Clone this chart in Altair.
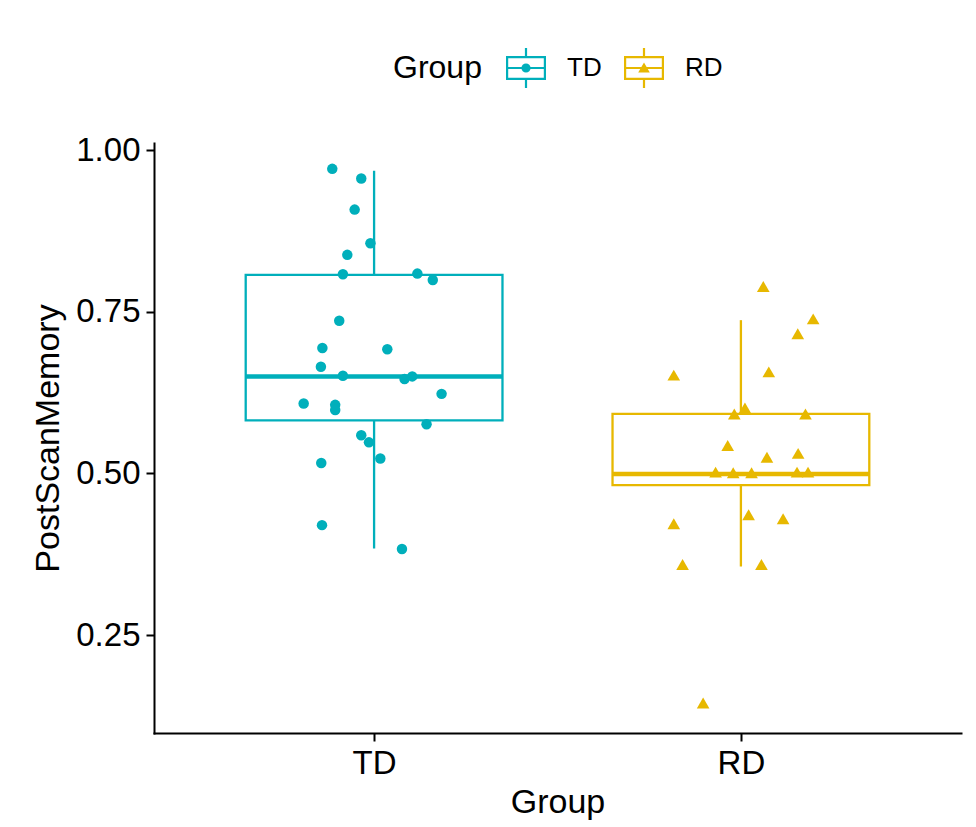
import json
import math
import altair as alt
import pandas as pd

# ---------------- data ----------------
groups = ["TD", "RD"]
palette = ["#00AFBB", "#E7B800"]

td_values = [0.971, 0.956, 0.908, 0.856, 0.838, 0.808, 0.809, 0.799, 0.736, 0.694,
             0.692, 0.665, 0.651, 0.646, 0.650, 0.623, 0.608, 0.606, 0.598, 0.576,
             0.559, 0.548, 0.523, 0.516, 0.420, 0.383]
td_jitter = [-0.114, -0.035, -0.053, -0.010, -0.073, -0.085, 0.118, 0.160, -0.095, -0.141,
             0.036, -0.145, -0.085, 0.083, 0.104, 0.184, -0.192, -0.106, -0.106, 0.143,
             -0.035, -0.014, 0.017, -0.144, -0.142, 0.076]

rd_values = [0.789, 0.739, 0.716, 0.652, 0.657, 0.592, 0.601, 0.592, 0.543, 0.525,
             0.531, 0.502, 0.501, 0.501, 0.502, 0.502, 0.436, 0.430, 0.422, 0.359,
             0.359, 0.145]
rd_jitter = [0.061, 0.197, 0.155, -0.183, 0.076, -0.018, 0.011, 0.176, -0.036, 0.071,
             0.156, -0.069, -0.021, 0.029, 0.153, 0.183, 0.021, 0.115, -0.183, -0.159,
             0.056, -0.103]

box_lower = [0.384, 0.356]
box_q1 = [0.582, 0.482]
box_median = [0.650, 0.499]
box_q3 = [0.807, 0.592]
box_upper = [0.968, 0.737]

y_ticks = [0.25, 0.50, 0.75, 1.00]

# ---------------- tables ----------------
BOX_HALF = 0.35
pos = {g: i + 1 for i, g in enumerate(groups)}

points = pd.DataFrame({
    "Group": ["TD"] * len(td_values) + ["RD"] * len(rd_values),
    "PostScanMemory": td_values + rd_values,
    "jitter": td_jitter + rd_jitter,
})
points["x"] = points["Group"].map(pos) + points["jitter"]

boxes = pd.DataFrame({
    "Group": groups,
    "lower": box_lower,
    "q1": box_q1,
    "median": box_median,
    "q3": box_q3,
    "upper": box_upper,
})
boxes["pos"] = boxes["Group"].map(pos)
boxes["left"] = boxes["pos"] - BOX_HALF
boxes["right"] = boxes["pos"] + BOX_HALF

# ---------------- legend icons (box with point) ----------------
def rect(x0, y0, x1, y1, cw=True):
    if cw:
        return f"M{x0},{y0}L{x1},{y0}L{x1},{y1}L{x0},{y1}Z"
    return f"M{x0},{y0}L{x0},{y1}L{x1},{y1}L{x1},{y0}Z"

t = 0.055
frame = (rect(-1, -0.6, 1, 0.6) + rect(-1 + 2 * t, -0.6 + 2 * t, 1 - 2 * t, 0.6 - 2 * t, cw=False)
         + rect(-1 + 2 * t, -t, 1 - 2 * t, t)
         + rect(-t, -1, t, -0.6) + rect(-t, 0.6, t, 1))
n = 16
r = 0.23
circ = "M" + "L".join(f"{r*math.cos(2*math.pi*k/n):.3f},{r*math.sin(2*math.pi*k/n):.3f}" for k in range(n)) + "Z"
tri = "M0,-0.28L0.29,0.22L-0.29,0.22Z"
icons = [frame + circ, frame + tri]

# ---------------- scales / axes ----------------
x_scale = alt.Scale(domain=[0.4, 2.6], nice=False, zero=False)
y_scale = alt.Scale(domain=[0.0985, 1.011], nice=False, zero=False)
color_scale = alt.Scale(domain=groups, range=palette)

x_axis = alt.Axis(values=[1, 2], labelExpr=f"{json.dumps(groups)}[datum.value - 1]",
                  title="Group", titleX=403.5, titleY=79, titleAlign="center",
                  titleBaseline="alphabetic", labelPadding=6)
y_axis = alt.Axis(values=y_ticks, format=".2f", title="PostScanMemory",
                  titleX=-96, titleY=295, titleAngle=270, titleAlign="center",
                  titleBaseline="alphabetic", labelPadding=6)

X = lambda f: alt.X(f, scale=x_scale, axis=x_axis)
Y = lambda f: alt.Y(f, scale=y_scale, axis=y_axis)
C = alt.Color("Group:N", scale=color_scale)

leg = alt.Legend(title="Group", orient="none", legendX=239, legendY=-95,
                 direction="horizontal", titleOrient="left", titleFontSize=32,
                 titleFontWeight="normal", titleColor="black", titlePadding=24,
                 titleBaseline="middle", labelFontSize=26, labelColor="black",
                 labelOffset=21, columnPadding=22, symbolSize=1600,
                 symbolStrokeWidth=0, symbolOpacity=1, padding=0)

# legend-only layer (draws no marks, supplies the box-icon legend)
legend_layer = alt.Chart(boxes).transform_filter("false").mark_point(filled=True, opacity=1).encode(
    x=X("pos:Q"), y=Y("median:Q"),
    color=alt.Color("Group:N", scale=color_scale, legend=leg),
    shape=alt.Shape("Group:N", scale=alt.Scale(domain=groups, range=icons), legend=leg))

whisker = alt.Chart(boxes).mark_rule(strokeWidth=2.3).encode(
    x=X("pos:Q"), y=Y("lower:Q"), y2="upper:Q", color=C)

box = alt.Chart(boxes).mark_rect(fill="white", strokeWidth=2.3).encode(
    x=X("left:Q"), x2="right:Q", y=Y("q1:Q"), y2="q3:Q",
    stroke=alt.Stroke("Group:N", scale=color_scale))

median = alt.Chart(boxes).mark_rule(strokeWidth=4.5).encode(
    x=X("left:Q"), x2="right:Q", y=Y("median:Q"), color=C)

pts_td = alt.Chart(points).transform_filter(alt.datum.Group == groups[0]).mark_point(
    shape="circle", filled=True, size=110, opacity=1).encode(
    x=X("x:Q"), y=Y("PostScanMemory:Q"), color=C)

pts_rd = alt.Chart(points).transform_filter(alt.datum.Group == groups[1]).mark_point(
    shape="triangle-up", filled=True, size=160, opacity=1).encode(
    x=X("x:Q"), y=Y("PostScanMemory:Q"), color=C)

chart = alt.layer(legend_layer, whisker, box, median, pts_td, pts_rd).properties(
    width=807, height=590,
    autosize=alt.AutoSizeParams(type="none"),
    padding={"left": 154, "top": 143, "right": 15, "bottom": 94},
    background="white",
).configure(font="Liberation Sans").configure_view(stroke=None).configure_axis(
    grid=False, domainColor="black", domainWidth=2, domainCap="square",
    tickColor="black", tickWidth=2, tickSize=8,
    labelFontSize=33, labelColor="black", titleFontSize=34, titleColor="black",
    titleFontWeight="normal", labelFont="Liberation Sans", titleFont="Liberation Sans",
).configure_legend(disable=True, labelFont="Liberation Sans", titleFont="Liberation Sans")

chart.save("out.html", embed_options={"renderer": "svg", "actions": False})
